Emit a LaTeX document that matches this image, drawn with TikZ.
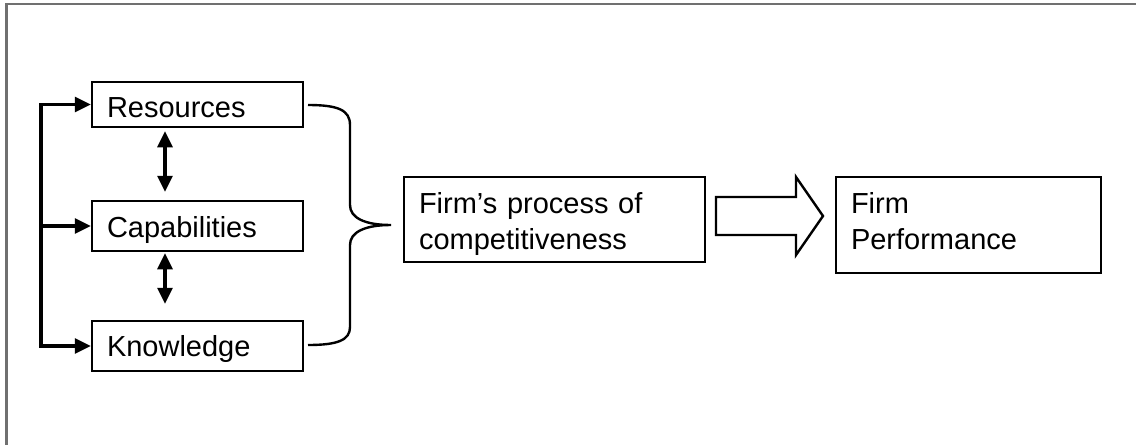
\documentclass[tikz,border=0pt]{standalone}
\usepackage{fontspec}
\setmainfont{Liberation Sans}
\usetikzlibrary{arrows.meta}
\definecolor{framegray}{HTML}{707070}
\begin{document}
\begin{tikzpicture}[x=0.5pt,y=-0.5pt,
  box/.style={draw, line width=1.25pt, inner xsep=7.5pt, inner ysep=0pt, align=left,
    font=\fontsize{14.5}{18}\selectfont},
  single/.style={box, text width=90.5pt, text height=13.5pt},
  arr/.style={line width=1.6pt, -{Triangle[length=8pt,width=7.5pt]}},
  darr/.style={line width=1.6pt, {Triangle[length=8pt,width=7.5pt]}-{Triangle[length=8pt,width=7.5pt]}},
  shapeline/.style={line width=1.2pt, line join=miter},
  frame/.style={draw=framegray, line width=1.1pt}]
\useasboundingbox (0,0) rectangle (1136,445);
\draw[frame] (1136,4) -- (6.5,4) -- (6.5,445);

\node[single, minimum height=22.5pt, text depth=1pt] (res) at (197.5,104.5) {Resources};
\node[single, minimum height=25pt, text depth=2.5pt] (cap) at (197.5,226) {Capabilities};
\node[single, minimum height=25pt, text depth=3.5pt] (kno) at (197.5,346) {Knowledge};
\node[box, text width=135.5pt, minimum height=42.5pt, text height=14pt, text depth=20.5pt] (firm) at (554.5,219.5) {Firm’s process of\\competitiveness};
\node[box, text width=117.5pt, minimum height=48pt, text height=12pt, text depth=24pt] (perf) at (968.5,225) {Firm\\Performance};

% left feedback connectors
\coordinate (bb) at (41,346);
\draw[darr, line join=miter] (res.west) -| (bb) -- (kno.west);
\draw[arr] (bb |- cap.west) -- (cap.west);

% vertical double arrows
\draw[darr, shorten <=1.5pt, shorten >=4pt] ([xshift=-16.25pt]res.south) -- ([xshift=-16.25pt]cap.north);
\draw[darr, shorten <=0.5pt, shorten >=8pt] ([xshift=-16.25pt]cap.south) -- ([xshift=-16.25pt]kno.north);

% brace
\draw[shapeline] (308,105) .. controls (338,105) and (350,110) .. (350,125) -- (350,205)
  .. controls (350,218) and (365,225) .. (391,225)
  .. controls (365,225) and (350,232) .. (350,245) -- (350,327)
  .. controls (350,340) and (338,345) .. (308,345);

% block arrow
\draw[shapeline] (716,197) -- (796,197) -- (796,177) -- (823,216) -- (796,255) -- (796,235) -- (716,235) -- cycle;
\end{tikzpicture}
\end{document}
